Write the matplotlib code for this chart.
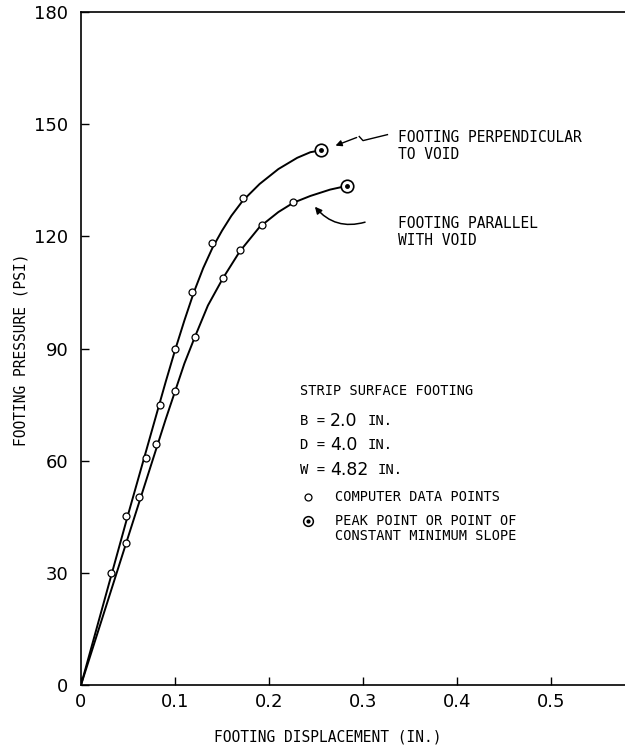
import matplotlib

matplotlib.use("Agg")
import matplotlib.pyplot as plt

MONO = "DejaVu Sans Mono"
DIGITS = ["Liberation Sans Narrow", "DejaVu Sans"]

# footing perpendicular to void
perp_x = [0.032, 0.048, 0.069, 0.084, 0.100, 0.118, 0.139, 0.172]
perp_y = [30.0, 45.1, 60.8, 75.0, 90.0, 105.1, 118.3, 130.3]
perp_peak = (0.255, 143.0)
perp_curve_x = [0.0, 0.05, 0.09, 0.10, 0.11, 0.12, 0.13, 0.14, 0.15, 0.16, 0.172,
                0.19, 0.21, 0.23, 0.244, 0.255]
perp_curve_y = [0.0, 45.5, 81.0, 89.5, 97.5, 105.0, 111.5, 117.0, 121.5, 125.5, 129.5,
                134.0, 138.0, 141.0, 142.5, 143.0]

# footing parallel with void
par_x = [0.048, 0.062, 0.080, 0.100, 0.121, 0.151, 0.169, 0.193, 0.226]
par_y = [37.9, 50.2, 64.5, 78.7, 93.1, 108.8, 116.4, 123.0, 129.3]
par_peak = (0.283, 133.5)
par_curve_x = [0.0, 0.05, 0.09, 0.10, 0.11, 0.121, 0.135, 0.151, 0.169, 0.19, 0.21,
               0.226, 0.244, 0.265, 0.283]
par_curve_y = [0.0, 39.5, 71.0, 78.5, 86.0, 93.0, 101.5, 108.8, 116.0, 122.5, 126.5,
               129.0, 130.8, 132.5, 133.5]

x_ticks = [0, 0.1, 0.2, 0.3, 0.4, 0.5]
x_labels = ["0", "0.1", "0.2", "0.3", "0.4", "0.5"]
y_ticks = [0, 30, 60, 90, 120, 150, 180]

W, H = 625, 747
fig = plt.figure(figsize=(W / 100, H / 100), dpi=100)
L, R, B, T = 81, 625, 685, 12
ax = fig.add_axes([L / W, 1 - B / H, (R - L) / W, (B - T) / H])


def px(x, y):
    # pixel position inside the frame -> axes fraction
    return (x - L) / (R - L), (B - y) / (B - T)


ax.set_xlim(0, (R - L) / 940)
ax.set_ylim(0, 180)

ax.plot(perp_curve_x, perp_curve_y, color="black", lw=1.4, zorder=2)
ax.plot(par_curve_x, par_curve_y, color="black", lw=1.4, zorder=2)

pt = dict(ls="none", marker="o", ms=5, mfc="white", mec="black", mew=0.9, zorder=3)
ax.plot(perp_x, perp_y, **pt)
ax.plot(par_x, par_y, **pt)

for px_, py_ in (perp_peak, par_peak):
    ax.plot(px_, py_, ls="none", marker="o", ms=9, mfc="white", mec="black", mew=1.2, zorder=4)
    ax.plot(px_, py_, ls="none", marker="o", ms=2.5, color="black", zorder=5)

# annotations
ax.text(0.337, 148.5, "FOOTING PERPENDICULAR\nTO VOID", family=MONO, fontsize=10.5,
        va="top", ha="left", linespacing=1.15)
ax.plot([0.326, 0.300, 0.296], [147.2, 145.6, 146.7], color="black", lw=1.0)
ax.annotate("", xy=(0.268, 144.0), xytext=(0.296, 146.7),
            arrowprops=dict(arrowstyle="-|>", color="black", lw=1.0, mutation_scale=9))

ax.text(0.337, 125.5, "FOOTING PARALLEL\nWITH VOID", family=MONO, fontsize=10.5,
        va="top", ha="left", linespacing=1.15)
ax.annotate("", xy=(0.247, 128.5), xytext=(0.305, 124.0),
            arrowprops=dict(arrowstyle="-|>", color="black", lw=1.1, mutation_scale=10,
                            connectionstyle="arc3,rad=-0.35"))

# key block
ax.text(*px(300, 391), "STRIP SURFACE FOOTING", transform=ax.transAxes, family=MONO,
        fontsize=9.8, va="center", ha="left")
for y, sym, val, vx in ((421, "B", "2.0", 368), (445, "D", "4.0", 368), (470, "W", "4.82", 378)):
    ax.text(*px(300, y), f"{sym} =", transform=ax.transAxes, family=MONO, fontsize=10,
            va="center", ha="left")
    ax.text(*px(330, y), val, transform=ax.transAxes, family=DIGITS, fontsize=12.5,
            va="center", ha="left")
    ax.text(*px(vx, y), "IN.", transform=ax.transAxes, family=MONO, fontsize=10,
            va="center", ha="left")

ax.plot(*px(308, 497), transform=ax.transAxes, marker="o", ms=5, mfc="white",
        mec="black", mew=0.9, clip_on=False)
ax.plot(*px(308, 521), transform=ax.transAxes, marker="o", ms=7, mfc="white",
        mec="black", mew=1.1, clip_on=False)
ax.plot(*px(308, 521), transform=ax.transAxes, marker="o", ms=2, color="black", clip_on=False)
ax.text(*px(335, 497), "COMPUTER DATA POINTS", transform=ax.transAxes, family=MONO,
        fontsize=9.8, va="center", ha="left")
ax.text(*px(335, 514), "PEAK POINT OR POINT OF\nCONSTANT MINIMUM SLOPE", transform=ax.transAxes,
        family=MONO, fontsize=9.8, va="top", ha="left", linespacing=1.05)

# axes styling
ax.spines["right"].set_visible(False)
for s in ("left", "bottom", "top"):
    ax.spines[s].set_linewidth(1.2)
ax.set_xticks(x_ticks)
ax.set_xticklabels(x_labels, family=DIGITS, fontsize=13)
ax.set_yticks(y_ticks)
ax.set_yticklabels([str(v) for v in y_ticks], family=DIGITS, fontsize=13)
ax.tick_params(direction="in", length=6, width=1.0, top=False, right=False)
ax.tick_params(axis="y", pad=9)
ax.tick_params(axis="x", pad=6)

ax.set_xlabel("FOOTING DISPLACEMENT (IN.)", family=MONO, fontsize=10.5)
ax.set_ylabel("FOOTING PRESSURE (PSI)", family=MONO, fontsize=10.5)
ax.xaxis.set_label_coords(*px(328, 730))
ax.yaxis.set_label_coords(*px(29, 350))

fig.savefig("out.png", dpi=100)
